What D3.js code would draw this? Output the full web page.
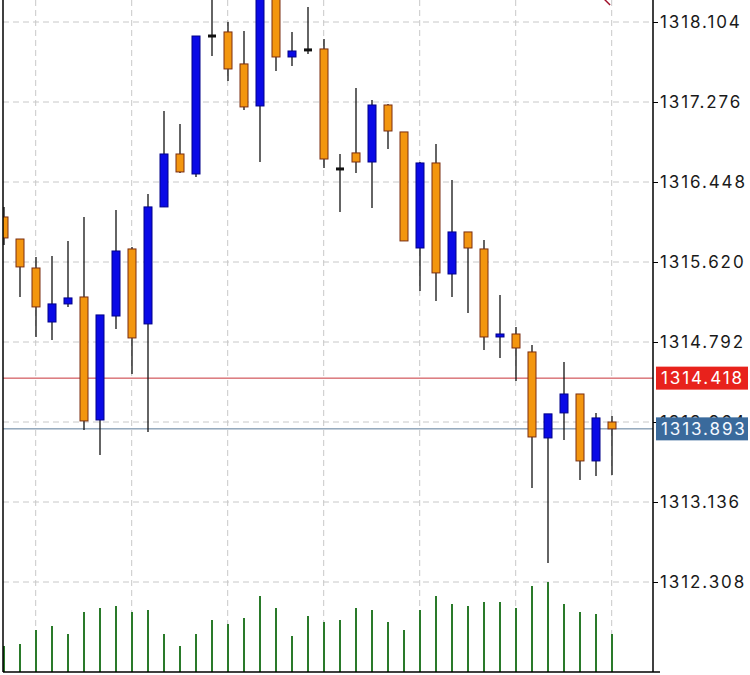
<!DOCTYPE html>
<html>
<head>
<meta charset="utf-8">
<script src="https://cdn.jsdelivr.net/npm/d3@7"></script>
<style>
  html, body { margin: 0; padding: 0; background: #fff; }
  svg { display: block; }
</style>
</head>
<body>
<div id="chart"></div>
<script>
// candles, oldest first (orange = down, blue = up)
const opens  = [1316.086, 1315.858, 1315.558, 1314.999, 1315.186, 1315.258, 1313.985, 1315.061, 1315.755, 1314.979,
                1316.190, 1316.738, 1316.531, 1317.959, 1318.001, 1317.670, 1317.235, 1318.456, 1317.742, 1317.815,
                1317.825, 1316.583, 1316.749, 1316.655, 1317.245, 1316.966, 1315.765, 1316.645, 1315.496, 1315.931,
                1315.755, 1314.844, 1314.875, 1314.689, 1313.799, 1314.058, 1314.254, 1313.561, 1313.964]
const highs  = [1316.190, 1315.858, 1315.672, 1315.682, 1315.838, 1316.086, 1315.072, 1316.159, 1315.776, 1316.324,
                1317.183, 1317.049, 1317.959, 1318.384, 1318.104, 1318.011, 1318.591, 1318.539, 1318.001, 1318.260,
                1317.928, 1316.738, 1317.421, 1317.297, 1317.256, 1316.966, 1316.655, 1316.842, 1316.469, 1315.931,
                1315.848, 1315.279, 1314.948, 1314.761, 1314.048, 1314.585, 1314.254, 1314.058, 1314.026]
const lows   = [1315.796, 1315.258, 1314.844, 1314.813, 1315.155, 1313.882, 1313.623, 1314.927, 1314.461, 1313.861,
                1316.190, 1316.541, 1316.500, 1317.752, 1317.494, 1317.194, 1316.655, 1317.597, 1317.649, 1317.773,
                1316.593, 1316.138, 1316.541, 1316.179, 1316.790, 1315.838, 1315.320, 1315.217, 1315.258, 1315.093,
                1314.710, 1314.627, 1314.389, 1313.281, 1312.505, 1313.778, 1313.364, 1313.406, 1313.416]
const closes = [1315.869, 1315.569, 1315.155, 1315.186, 1315.248, 1313.975, 1315.072, 1315.734, 1314.834, 1316.190,
                1316.738, 1316.552, 1317.959, 1317.959, 1317.618, 1317.225, 1318.456, 1317.742, 1317.804, 1317.815,
                1316.686, 1316.583, 1316.655, 1317.245, 1316.976, 1315.838, 1316.645, 1315.507, 1315.931, 1315.765,
                1314.844, 1314.875, 1314.730, 1313.809, 1314.048, 1314.254, 1313.561, 1314.006, 1313.893]
const volumes = [26, 28, 42, 46, 38, 60, 64, 66, 60, 62,
                 38, 26, 38, 52, 48, 54, 76, 64, 36, 56,
                 50, 52, 64, 62, 50, 42, 62, 76, 68, 66,
                 70, 70, 64, 86, 90, 68, 60, 58, 38]

// price axis tick labels
const priceTicks = [1318.104, 1317.276, 1316.448, 1315.620, 1314.792, 1313.964, 1313.136, 1312.308]
// candle indexes where the vertical grid falls
const timeGrid = [2, 8, 14, 20, 26, 32, 38]

// horizontal price lines with their label boxes
const askPrice = 1314.418
const lastPrice = 1313.893

// short red drawing cut by the top edge
const trendIdx = [37.44, 37.88]
const trendPrice = [1318.353, 1318.280]

const width = 750
const height = 675
const left = 3, right = 653, bottom = 672

const data = opens.map((o, i) => ({
    i: i, open: o, high: highs[i], low: lows[i], close: closes[i], vol: volumes[i]
}))

const svg = d3.select("#chart")
    .append("svg")
    .attr("width", width)
    .attr("height", height)

const x = d3.scaleLinear().domain([0, 38]).range([4, 612])
const y = d3.scaleLinear().domain([1312.308, 1318.104]).range([582, 22])
const yVol = d3.scaleLinear().domain([0, 100]).range([bottom, bottom - 100])

svg.append("defs").append("clipPath").attr("id", "plot")
    .append("rect").attr("x", left).attr("y", 0).attr("width", right - left).attr("height", bottom)

const plot = svg.append("g").attr("clip-path", "url(#plot)")

// grid
plot.append("g").selectAll("line")
    .data(priceTicks)
    .join("line")
    .attr("x1", left).attr("x2", right)
    .attr("y1", d => y(d)).attr("y2", d => y(d))
    .attr("stroke", "#c8c8c8").attr("stroke-dasharray", "6,4")

plot.append("g").selectAll("line")
    .data(timeGrid)
    .join("line")
    .attr("x1", d => x(d) - 0.3).attr("x2", d => x(d) - 0.3)
    .attr("y1", 0).attr("y2", bottom)
    .attr("stroke", "#c8c8c8").attr("stroke-dasharray", "6,4")

// volume
plot.append("g").selectAll("line")
    .data(data)
    .join("line")
    .attr("x1", d => x(d.i)).attr("x2", d => x(d.i))
    .attr("y1", yVol(0)).attr("y2", d => yVol(d.vol))
    .attr("stroke", "#2a7a2a").attr("stroke-width", 2)

// price lines
plot.append("line")
    .attr("x1", left).attr("x2", right)
    .attr("y1", y(askPrice)).attr("y2", y(askPrice))
    .attr("stroke", "#c8343a").attr("stroke-width", 1)
plot.append("line")
    .attr("x1", left).attr("x2", right)
    .attr("y1", y(lastPrice)).attr("y2", y(lastPrice))
    .attr("stroke", "#5b7b98").attr("stroke-width", 1)

// wicks
plot.append("g").selectAll("line")
    .data(data)
    .join("line")
    .attr("x1", d => x(d.i)).attr("x2", d => x(d.i))
    .attr("y1", d => y(d.high)).attr("y2", d => y(d.low))
    .attr("stroke", "#111").attr("stroke-width", 1.3)

// bodies
const bw = 8
plot.append("g").selectAll("rect")
    .data(data)
    .join("rect")
    .attr("x", d => x(d.i) - bw / 2)
    .attr("width", bw)
    .attr("y", d => d.open === d.close ? y(d.open) - 1.5 : y(Math.max(d.open, d.close)))
    .attr("height", d => d.open === d.close ? 3 : Math.abs(y(d.open) - y(d.close)))
    .attr("fill", d => d.open === d.close ? "#111" : (d.close > d.open ? "#0a0ae6" : "#f3960f"))
    .attr("stroke", d => d.open === d.close ? "none" : (d.close > d.open ? "#00008a" : "#7a2e12"))
    .attr("stroke-width", 1)

// red drawing at the top
plot.append("line")
    .attr("x1", x(trendIdx[0])).attr("y1", y(trendPrice[0]))
    .attr("x2", x(trendIdx[1])).attr("y2", y(trendPrice[1]))
    .attr("stroke", "#a0102a").attr("stroke-width", 1.5)

// frame
svg.append("line").attr("x1", left).attr("x2", left).attr("y1", 0).attr("y2", bottom)
    .attr("stroke", "#000").attr("stroke-width", 1.5)
svg.append("line").attr("x1", right).attr("x2", right).attr("y1", 0).attr("y2", bottom)
    .attr("stroke", "#000").attr("stroke-width", 1.5)
svg.append("line").attr("x1", left).attr("x2", right + 7).attr("y1", bottom).attr("y2", bottom)
    .attr("stroke", "#000").attr("stroke-width", 1.5)

// price axis
const yAxis = d3.axisRight(y)
    .tickValues(priceTicks)
    .tickFormat(d3.format(".3f"))
    .tickSize(5)
    .tickPadding(2)

const ax = svg.append("g")
    .attr("transform", `translate(${right},0)`)
    .call(yAxis)
ax.select(".domain").remove()
ax.selectAll(".tick line").attr("stroke", "#000")
ax.selectAll(".tick text")
    .attr("fill", "#1a1a1a")
    .style("font-family", "Inter, 'Noto Sans', sans-serif")
    .style("font-size", "17px")
    .style("letter-spacing", "1.9px")

// price label boxes (the last price box covers the 1313.964 tick, as in the app)
const boxes = [
    {p: askPrice, fill: "#e8221c", text: "#fff"},
    {p: lastPrice, fill: "#3a6a9c", text: "#f4f8ff"}
]
const bg = svg.append("g").selectAll("g")
    .data(boxes)
    .join("g")
    .attr("transform", d => `translate(${right + 3},${y(d.p)})`)
bg.append("rect")
    .attr("x", 0).attr("y", -11.5)
    .attr("width", 92).attr("height", 23)
    .attr("fill", d => d.fill)
bg.append("text")
    .attr("x", 5).attr("dy", "0.35em")
    .attr("fill", d => d.text)
    .style("font-family", "Inter, 'Noto Sans', sans-serif")
    .style("font-size", "17px")
    .style("letter-spacing", "1.9px")
    .text(d => d3.format(".3f")(d.p))
</script>
</body>
</html>
